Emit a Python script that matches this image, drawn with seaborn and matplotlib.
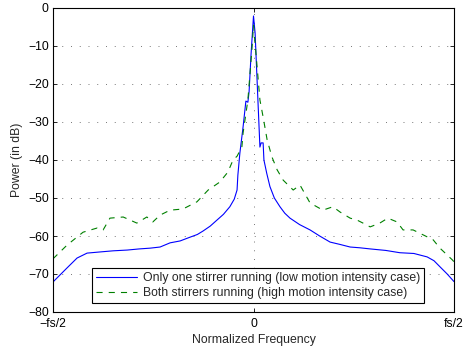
import numpy as np
import pandas as pd
import matplotlib
matplotlib.use("Agg")
import matplotlib.pyplot as plt
import seaborn as sns

# Normalized frequency (fraction of fs) and power (dB)
freq_one = [-0.5, -0.465, -0.44, -0.415, -0.383, -0.35, -0.315, -0.285, -0.258, -0.233, -0.208,
            -0.183, -0.158, -0.14, -0.126, -0.108, -0.091, -0.075, -0.059, -0.048, -0.041, -0.039,
            -0.034, -0.026, -0.019, -0.014, -0.011, -0.006, 0.0, 0.004, 0.011, 0.016, 0.019,
            0.024, 0.026, 0.033, 0.041, 0.052, 0.066, 0.078, 0.091, 0.115, 0.141, 0.165, 0.191,
            0.215, 0.241, 0.265, 0.291, 0.33, 0.365, 0.4, 0.433, 0.45, 0.465, 0.483, 0.5]
power_one = [-72.1, -68.4, -65.8, -64.5, -64.2, -63.9, -63.7, -63.4, -63.2, -62.9, -61.8,
             -61.3, -60.3, -59.6, -58.7, -57.4, -55.8, -54.3, -52.3, -50.3, -47.9, -44.0,
             -38.2, -31.3, -24.5, -24.8, -22.0, -12.0, -2.1, -6.6, -24.2, -36.6, -35.5,
             -35.5, -40.0, -43.5, -47.0, -50.0, -52.3, -54.0, -55.3, -57.0, -58.4, -60.0, -61.6,
             -62.2, -62.9, -63.1, -63.4, -63.8, -64.4, -64.6, -65.5, -66.5, -68.1, -70.0, -72.0]

freq_both = [-0.5, -0.465, -0.425, -0.39, -0.375, -0.358, -0.325, -0.291, -0.266, -0.251,
             -0.233, -0.208, -0.176, -0.141, -0.113, -0.084, -0.064, -0.051, -0.041, -0.029,
             -0.026, -0.014, -0.004, 0.0, 0.009, 0.016, 0.024, 0.034, 0.046, 0.059, 0.074,
             0.099, 0.116, 0.141, 0.173, 0.198, 0.216, 0.241, 0.258, 0.273, 0.291, 0.315,
             0.335, 0.358, 0.373, 0.398, 0.423, 0.448, 0.465, 0.496, 0.5]
power_both = [-66.0, -62.4, -59.0, -57.9, -58.4, -55.3, -55.0, -56.6, -55.0, -56.3,
              -54.5, -53.2, -52.9, -51.0, -47.9, -45.8, -43.2, -40.0, -39.0, -36.6,
              -32.9, -24.2, -11.0, -4.5, -15.5, -24.2, -28.7, -34.7, -39.2, -42.6, -45.3,
              -47.9, -46.6, -51.3, -53.2, -52.3, -53.7, -55.3, -55.8, -56.6, -57.6, -56.6,
              -55.3, -56.3, -58.4, -58.4, -59.7, -61.0, -63.2, -66.3, -66.8]

labels = ["Only one stirrer running (low motion intensity case)",
          "Both stirrers running (high motion intensity case)"]
x_ticks = [-0.5, 0.0, 0.5]
x_ticklabels = ["\u2212fs/2", "0", "fs/2"]
y_ticks = [0, -10, -20, -30, -40, -50, -60, -70, -80]

FS = 8.8
sns.set_style("ticks")
plt.rcParams["font.family"] = ["Liberation Sans", "DejaVu Sans"]
plt.rcParams["font.size"] = FS

fig = plt.figure(figsize=(4.63, 3.49), dpi=100)
ax = fig.add_axes([53 / 463, 1 - 312 / 349, (454 - 53) / 463, (312 - 8) / 349])

df1 = pd.DataFrame({"f": freq_one, "p": power_one})
df2 = pd.DataFrame({"f": freq_both, "p": power_both})
sns.lineplot(data=df1, x="f", y="p", ax=ax, color="#0000ff", lw=0.8, label=labels[0],
             estimator=None, sort=False)
sns.lineplot(data=df2, x="f", y="p", ax=ax, color="#008000", lw=0.8, label=labels[1],
             estimator=None, sort=False, linestyle=(0, (5.5, 5.5)))

ax.set_xlim(-0.5, 0.5)
ax.set_ylim(-80, 0)
ax.set_xticks(x_ticks)
ax.set_xticklabels(x_ticklabels)
ax.set_yticks(y_ticks)
ax.set_yticklabels([str(v).replace("-", "\u2212") for v in y_ticks])
ax.set_xlabel("Normalized Frequency", fontsize=FS, labelpad=3)
ax.set_ylabel("Power (in dB)", fontsize=FS, labelpad=4)

ax.grid(True, linestyle=(0, (1, 8)), color="#777777", linewidth=0.7)
ax.tick_params(direction="in", length=3, width=0.6, top=True, right=True,
               labelsize=FS, colors="black")
ax.tick_params(axis="x", pad=4)
ax.tick_params(axis="y", pad=3)
for s in ax.spines.values():
    s.set_visible(True)
    s.set_linewidth(0.8)
    s.set_color("black")

leg = ax.legend(loc="lower left", bbox_to_anchor=(0.097, 0.03), frameon=True, fancybox=False,
                edgecolor="black", framealpha=1, handlelength=3.4, borderpad=0.3,
                labelspacing=0.25, handletextpad=0.5, fontsize=FS, borderaxespad=0)
leg.get_frame().set_linewidth(0.8)

fig.savefig("out.png", dpi=100)
